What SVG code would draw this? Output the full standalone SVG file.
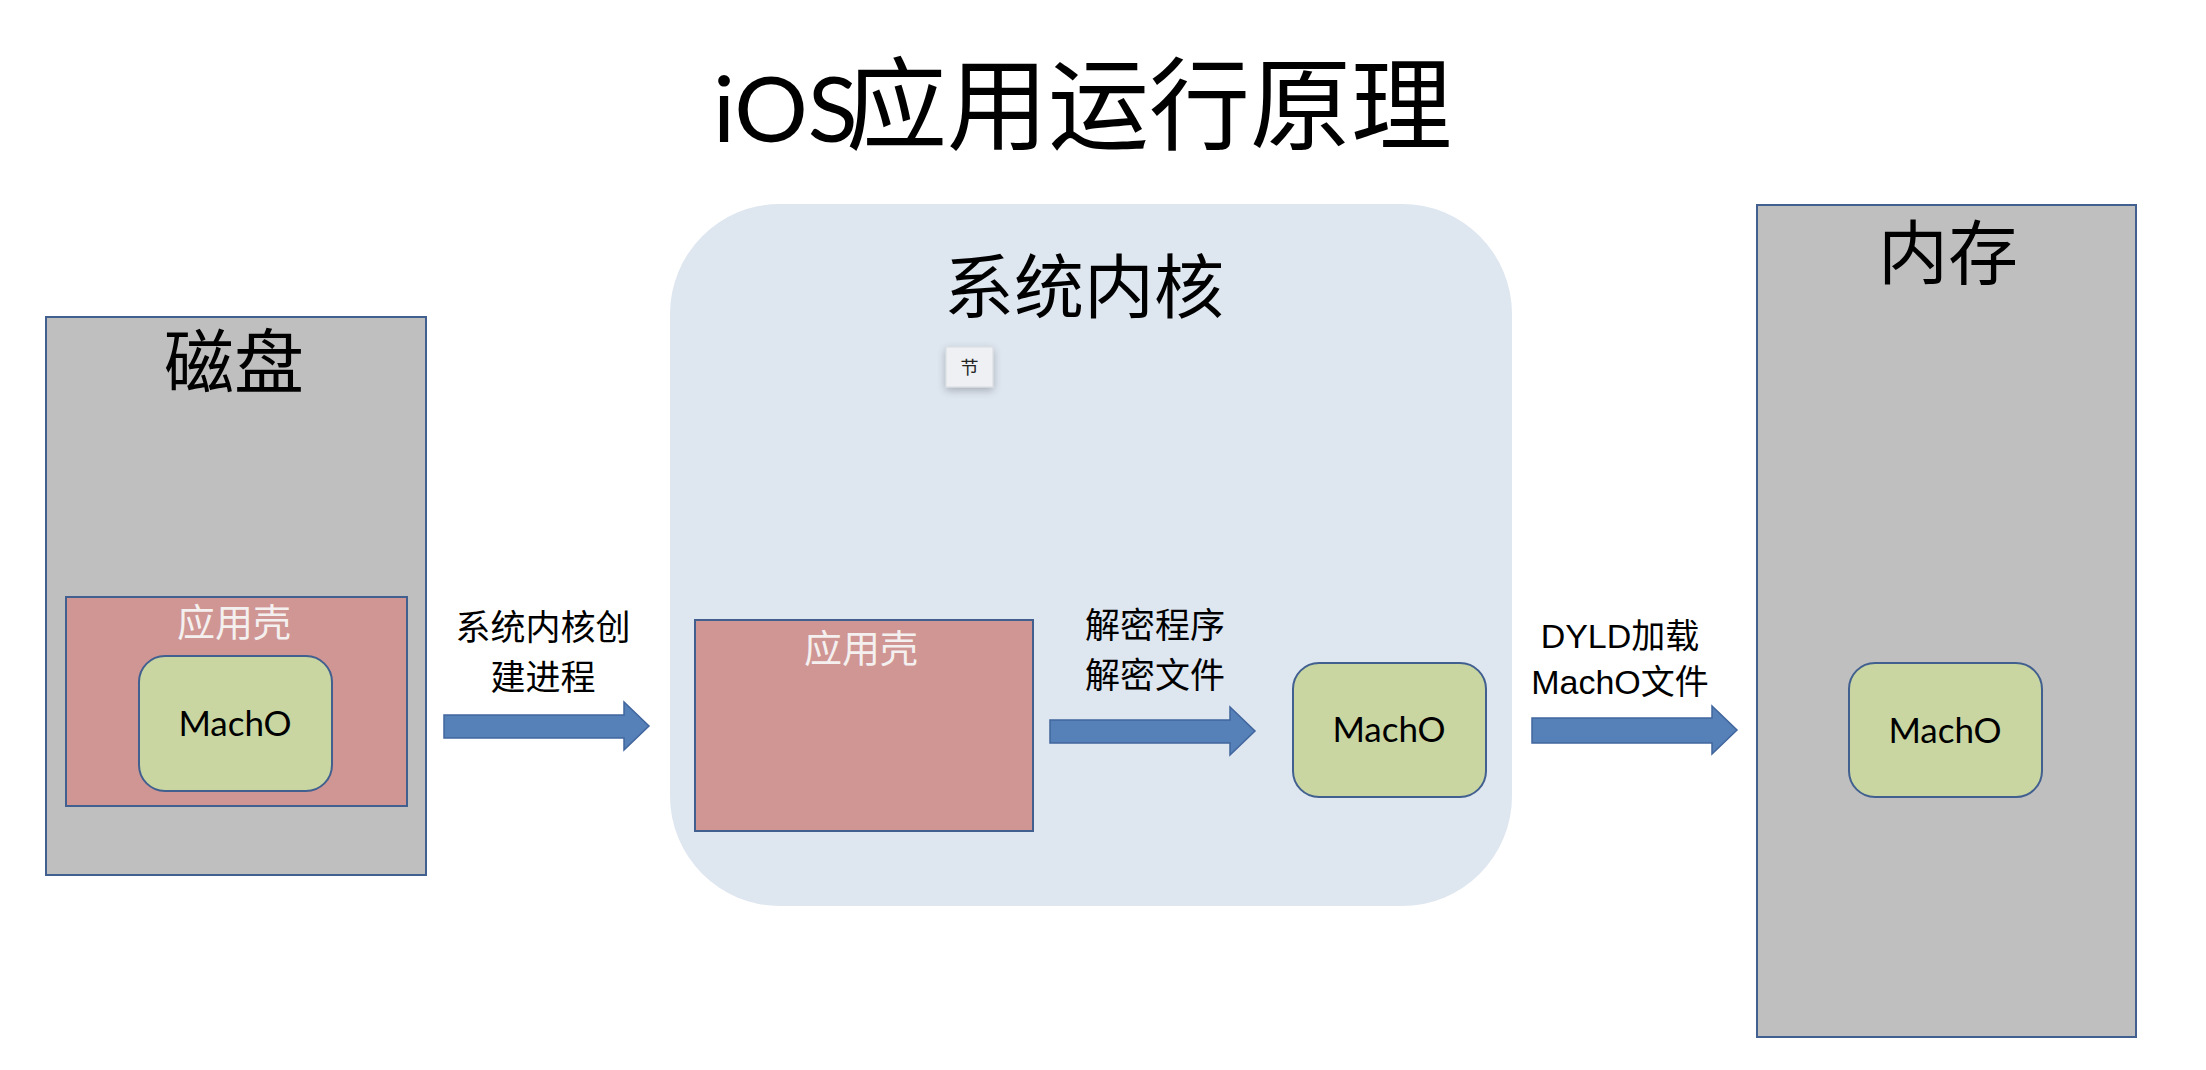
<svg xmlns="http://www.w3.org/2000/svg" width="2206" height="1070" viewBox="0 0 2206 1070">
<style>
.box{fill:#bfbfbf;stroke:#41608f;stroke-width:2}
.shell{fill:#d09694;stroke:#41608f;stroke-width:2}
.macho{fill:#c9d6a2;stroke:#41608f;stroke-width:2}
.arrow{fill:#5580b8;stroke:#41659d;stroke-width:1.5}
.big{font-family:"Noto Sans CJK SC",sans-serif;font-size:70px;fill:#000;text-anchor:middle}
.shellt{font-family:"Noto Sans CJK SC",sans-serif;font-size:38px;fill:#f4f0ef;text-anchor:middle}
.lbl{font-family:"Noto Sans CJK SC",sans-serif;font-size:35px;fill:#000;text-anchor:middle}
.mt{font-family:Lato,"Liberation Sans",sans-serif;font-size:35px;fill:#000;text-anchor:middle}
.dy{font-family:"Liberation Sans","Noto Sans CJK SC",sans-serif;font-size:34px;fill:#000;text-anchor:middle}
</style>
<defs>
<filter id="sh" x="-50%" y="-50%" width="200%" height="200%">
<feGaussianBlur in="SourceAlpha" stdDeviation="4"/>
<feOffset dx="0" dy="3"/>
<feComponentTransfer><feFuncA type="linear" slope="0.25"/></feComponentTransfer>
<feMerge><feMergeNode/><feMergeNode in="SourceGraphic"/></feMerge>
</filter>
</defs>
<rect width="2206" height="1070" fill="#fff"/>
<g id="title">
<text x="713" y="142" font-family="Noto Sans CJK SC,sans-serif" fill="#000"><tspan font-family="Lato,'Liberation Sans',sans-serif" font-size="92">iOS</tspan><tspan x="846" font-size="101">应用运行原理</tspan></text>
</g>
<g id="disk">
<rect class="box" x="46" y="317" width="380" height="558"/>
<text class="big" x="234" y="388">磁盘</text>
</g>
<g id="disk-shell">
<rect class="shell" x="66" y="597" width="341" height="209"/>
<text class="shellt" x="234" y="636">应用壳</text>
</g>
<g id="disk-macho">
<rect class="macho" x="139" y="656" width="193" height="135" rx="26"/>
<text class="mt" x="235" y="736">MachO</text>
</g>
<g id="kernel">
<rect x="670" y="204" width="842" height="702" rx="110" fill="#dee6f0"/>
<text class="big" x="1084" y="313">系统内核</text>
</g>
<g id="section-tag">
<rect x="946" y="347" width="47" height="40" fill="#eef0f3" stroke="#d8dbe0" stroke-width="1" filter="url(#sh)"/>
<text x="969.5" y="374" font-family="Noto Sans CJK SC,sans-serif" font-size="18" text-anchor="middle" fill="#222">节</text>
</g>
<g id="kernel-shell">
<rect class="shell" x="695" y="620" width="338" height="211"/>
<text class="shellt" x="861" y="662">应用壳</text>
</g>
<g id="kernel-macho">
<rect class="macho" x="1293" y="663" width="193" height="134" rx="26"/>
<text class="mt" x="1389" y="742">MachO</text>
</g>
<g id="memory">
<rect class="box" x="1757" y="205" width="379" height="832"/>
<text class="big" x="1948" y="279">内存</text>
</g>
<g id="memory-macho">
<rect class="macho" x="1849" y="663" width="193" height="134" rx="26"/>
<text class="mt" x="1945" y="743">MachO</text>
</g>
<g id="connectors">
<polygon class="arrow" points="444,715 624,715 624,702 649,726 624,750 624,738 444,738"/>
<text class="lbl" x="543" y="640">系统内核创</text>
<text class="lbl" x="543" y="690">建进程</text>
<polygon class="arrow" points="1050,720 1230,720 1230,707 1255,731 1230,755 1230,743 1050,743"/>
<text class="lbl" x="1155" y="638">解密程序</text>
<text class="lbl" x="1155" y="688">解密文件</text>
<polygon class="arrow" points="1532,718 1712,718 1712,706 1737,730 1712,754 1712,743 1532,743"/>
<text class="dy" x="1620" y="648">DYLD加载</text>
<text class="dy" x="1620" y="694">MachO文件</text>
</g>
</svg>
